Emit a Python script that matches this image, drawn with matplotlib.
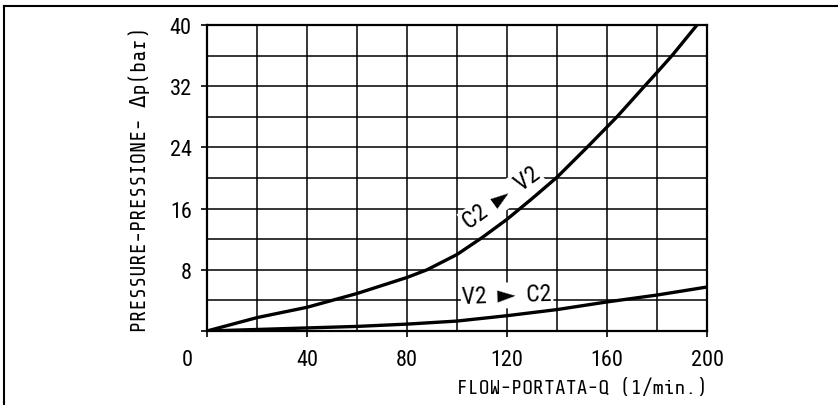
import matplotlib
matplotlib.use("Agg")
import matplotlib.pyplot as plt
from matplotlib.lines import Line2D

# curve C2 -> V2 (upper)
q_c2v2 = [0, 20, 40, 60, 80, 88, 100, 110, 120, 130, 140, 152, 164, 175, 180, 186, 196]
dp_c2v2 = [0, 1.75, 3.1, 4.9, 7.0, 8.0, 10.0, 12.2, 14.6, 17.3, 20.1, 24.0, 28.0, 32.0, 33.8, 36.0, 40.0]

# curve V2 -> C2 (lower)
q_v2c2 = [0, 20, 40, 60, 80, 100, 120, 140, 160, 180, 200]
dp_v2c2 = [0, 0.2, 0.4, 0.6, 0.9, 1.3, 2.0, 2.8, 3.8, 4.7, 5.75]

x_ticks = [0, 40, 80, 120, 160, 200]
y_ticks = [0, 8, 16, 24, 32, 40]
y_labels = ["", "8", "16", "24", "32", "40"]

NARROW = ["Roboto Condensed", "DejaVu Sans"]
TECH = ["Share Tech Mono", "DejaVu Sans Mono"]

fig = plt.figure(figsize=(8.38, 4.06), dpi=100)
ax = fig.add_axes([207 / 838, 74 / 406, 500 / 838, 306 / 406])

ax.set_xlim(0, 200)
ax.set_ylim(0, 40)
ax.set_xticks(x_ticks)
ax.set_yticks(y_ticks)
ax.set_xticks(range(0, 201, 20), minor=True)
ax.set_yticks(range(0, 41, 4), minor=True)
ax.set_xticklabels([""] + [str(v) for v in x_ticks[1:]], fontfamily=NARROW, fontsize=16)
ax.set_yticklabels(y_labels, fontfamily=NARROW, fontsize=16)
ax.tick_params(which="major", length=4, width=1.2, color="black", pad=7)
ax.tick_params(axis="x", pad=9)
ax.tick_params(which="minor", length=0)
ax.grid(which="both", color="black", lw=1.1)
for s in ax.spines.values():
    s.set_linewidth(1.6)

# shared origin label, set left of the corner
ax.annotate("0", xy=(-8, 0), xytext=(0, -13), textcoords="offset points",
            ha="center", va="top", fontfamily=NARROW, fontsize=16, annotation_clip=False)

ax.plot(q_c2v2, dp_c2v2, color="black", lw=2.4, zorder=3)
ax.plot(q_v2c2, dp_v2c2, color="black", lw=2.4, zorder=3)

# labels blank the grid but sit under the curves
box = dict(facecolor="white", edgecolor="none", pad=1.0)
ax.text(117.8, 17.4, "C2  \u25ba  V2", rotation=36, ha="center", va="center",
        fontfamily=NARROW, fontsize=17, bbox=box, zorder=2.8)
ax.text(120, 4.65, "V2  \u25ba  C2", rotation=2, ha="center", va="center",
        fontfamily=NARROW, fontsize=17, bbox=box, zorder=2.8)

ax.set_xlabel("FLOW-PORTATA-Q (1/min.)", fontfamily=TECH, fontsize=14.5, loc="right", labelpad=5)
ax.set_ylabel("PRESSURE-PRESSIONE- \u0394p(bar)", fontfamily=TECH, fontsize=15, labelpad=14)

# outer drawing frame (left and top edges visible)
fig.add_artist(Line2D([3.5 / 838, 3.5 / 838], [0, 1 - 7 / 406], color="black", lw=1.5))
fig.add_artist(Line2D([3.5 / 838, 1], [1 - 7 / 406, 1 - 7 / 406], color="black", lw=1.5))

fig.savefig("out.png", dpi=100)
